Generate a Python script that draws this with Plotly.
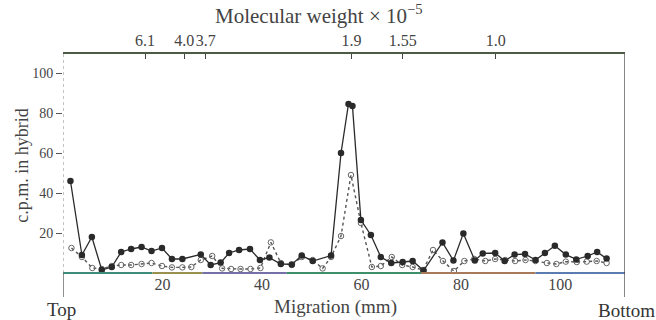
import plotly.graph_objects as go

# ---- data ----
filled_mm = [1.5, 3.8, 5.8, 7.8, 9.8, 11.7, 13.7, 15.8, 17.8, 19.9, 21.9, 24.0, 27.7, 29.7,
             31.7, 33.4, 35.4, 37.6, 39.6, 41.5, 43.8, 46.0, 48.0, 50.2, 53.9, 55.9, 57.4,
             58.2, 59.9, 61.9, 63.9, 66.0, 68.3, 70.3, 72.5, 76.3, 78.5, 80.5, 82.8, 84.4,
             86.9, 88.8, 90.8, 92.9, 95.0, 96.9, 98.9, 101.1, 103.2, 105.5, 107.4, 109.3]
filled_cpm = [46, 9, 18, 1.5, 3, 10.5, 12, 13, 11, 12.5, 7, 7, 9.3, 4,
              5.2, 10, 11.5, 12, 6.5, 7.7, 4.5, 4.3, 8.7, 6, 8.7, 60, 84.5,
              83.5, 26.5, 19, 8, 5, 5.5, 6, 1.2, 15.3, 6.2, 19.8, 6.3, 9.8,
              10, 6, 9.2, 9.5, 6.5, 10, 13.6, 9.2, 6.8, 8.5, 10.5, 7.2]

open_mm = [1.7, 3.8, 5.9, 7.8, 9.8, 11.7, 13.7, 15.8, 17.8, 19.9, 21.9, 24.0, 25.8, 27.7,
           30.0, 32.0, 33.8, 35.7, 37.7, 39.7, 41.8, 43.8, 46.0, 48.0, 50.2, 52.2, 53.9,
           55.9, 57.9, 59.9, 62.1, 63.9, 66.1, 68.2, 70.3, 72.4, 74.4, 76.4, 78.6, 80.7,
           82.7, 84.9, 86.9, 88.9, 90.9, 93.0, 95.0, 97.3, 99.2, 101.1, 103.3, 105.3,
           107.3, 109.3]
open_cpm = [12.5, 8, 2.5, 2, 3.5, 4, 4, 4.5, 5, 3.5, 2.8, 2.8, 3, 6.5,
            8.5, 2.3, 2, 2, 2, 2.5, 15.3, 5, 4, 8, 6.5, 2.3, 8,
            18.5, 49, 25, 3, 3.5, 8, 4, 3, 1.5, 11.5, 6, 1, 6,
            7, 6, 7, 6.5, 6, 6.5, 6, 5, 4.5, 5.7, 5.5, 5.7,
            6, 5]

y_ticks = [20, 40, 60, 80, 100]
x_ticks = [20, 40, 60, 80, 100]
mw_pos = [16.5, 24.4, 28.7, 58.0, 68.3, 87.0]
mw_labels = ["6.1", "4.0", "3.7", "1.9", "1.55", "1.0"]

X_MAX = 113
Y_MAX = 109.5
FONT = "Liberation Serif"
INK = "#3a3a3a"

# colour bands of the scanned baseline (mm ranges)
base_bands = [(0, 18, "#3d8c7a"), (18, 28, "#9a9150"), (28, 45, "#7670a8"),
              (45, 72, "#3f8f6a"), (72, 95, "#a87a5a"), (95, 113, "#5a7cb0")]

fig = go.Figure()
fig.add_trace(go.Scatter(
    x=open_mm, y=open_cpm, mode="lines+markers",
    line=dict(color="#555555", width=1.4, dash="dot"),
    marker=dict(symbol="circle-open", size=5.5, color="#666666", line=dict(width=1)),
    showlegend=False, cliponaxis=False))
fig.add_trace(go.Scatter(
    x=filled_mm, y=filled_cpm, mode="lines+markers",
    line=dict(color="#2a2a2a", width=1.3),
    marker=dict(symbol="circle", size=6.5, color="#2a2a2a"),
    showlegend=False, cliponaxis=False))
# invisible trace to activate the top axis
fig.add_trace(go.Scatter(x=[0, X_MAX], y=[None, None], xaxis="x2", showlegend=False,
                         hoverinfo="skip", mode="lines"))

fig.update_layout(
    width=656, height=320,
    margin=dict(l=63, r=31, t=54, b=47, autoexpand=False),
    paper_bgcolor="white", plot_bgcolor="white",
    font=dict(family=FONT, color=INK, size=14),
    xaxis=dict(range=[0, X_MAX], tickvals=x_ticks, ticktext=[str(v) for v in x_ticks],
               showgrid=False, zeroline=False, showline=False, ticks="", automargin=False,
               tickfont=dict(size=16, family=FONT, color="#444")),
    xaxis2=dict(range=[0, X_MAX], overlaying="x", side="top", tickvals=mw_pos,
                ticktext=mw_labels, showgrid=False, zeroline=False, showline=True,
                linecolor="#4d5a44", linewidth=1.5, ticks="inside", ticklen=5,
                tickangle=0, automargin=False,
                tickcolor="#444", tickfont=dict(size=16, family=FONT, color="#444")),
    yaxis=dict(range=[0, Y_MAX], tickvals=y_ticks, ticktext=[str(v) for v in y_ticks],
               showgrid=False, zeroline=False, showline=False, ticks="outside",
               ticklen=6, tickcolor="#555", automargin=False,
               tickfont=dict(size=14, family=FONT, color="#444")),
)

# baseline drawn in colour bands
for a, b, c in base_bands:
    fig.add_shape(type="line", xref="x", yref="paper", x0=a, x1=b, y0=0, y1=0,
                  line=dict(color=c, width=2))
# left axis (faint dotted) and right axis, plus the Top / Bottom markers
fig.add_shape(type="line", xref="x", yref="paper", x0=0, x1=0, y0=1, y1=0,
              line=dict(color="#8a8a8a", width=1, dash="dot"))
fig.add_shape(type="line", xref="x", yref="paper", x0=0, x1=0, y0=0, y1=-0.11,
              line=dict(color="#555", width=1.3))
fig.add_shape(type="line", xref="x", yref="paper", x0=X_MAX, x1=X_MAX, y0=1, y1=-0.11,
              line=dict(color="#444", width=1.3))

fig.add_annotation(text="Molecular weight × 10<sup>−5</sup>", xref="paper", yref="paper",
                   x=0.455, y=1, yanchor="middle", yshift=40, showarrow=False,
                   font=dict(size=21, family=FONT, color="#444"))
fig.add_annotation(text="Migration (mm)", xref="paper", yref="paper", x=0.484, y=0,
                   yanchor="middle", yshift=-34, showarrow=False,
                   font=dict(size=19, family=FONT, color="#444"))
fig.add_annotation(text="Top", xref="x", yref="paper", x=0, y=0, xanchor="center",
                   yanchor="middle", yshift=-36, xshift=-2, showarrow=False,
                   font=dict(size=19, family=FONT, color="#333"))
fig.add_annotation(text="Bottom", xref="x", yref="paper", x=X_MAX, y=0, xanchor="center",
                   yanchor="middle", yshift=-37, xshift=1, showarrow=False,
                   font=dict(size=19, family=FONT, color="#333"))
fig.add_annotation(text="c.p.m. in hybrid", xref="paper", yref="paper", x=0, y=0.49,
                   xanchor="center", yanchor="middle", xshift=-41, textangle=-90,
                   showarrow=False, font=dict(size=18, family=FONT, color="#444"))

fig.write_html("out.html", config={"displayModeBar": False},
               post_script="document.body.style.margin='0';document.body.style.padding='0';")
